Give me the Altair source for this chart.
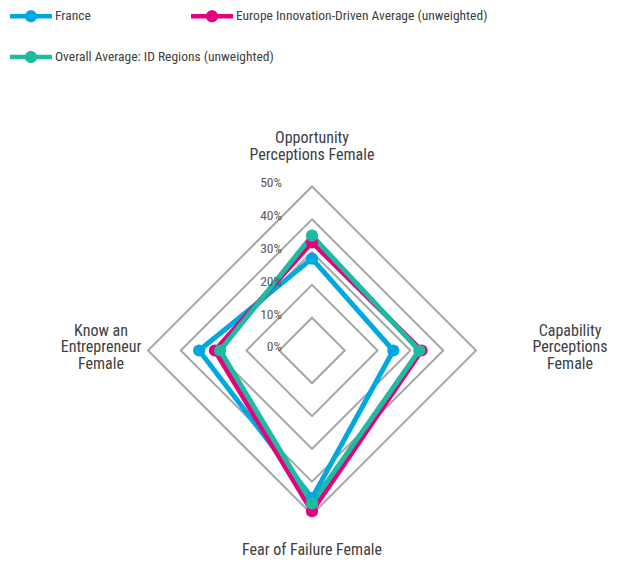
import altair as alt
import pandas as pd

# ---- data (percent) ----
axes = [
    "Opportunity Perceptions Female",
    "Capability Perceptions Female",
    "Fear of Failure Female",
    "Know an Entrepreneur Female",
]
series = [
    "France",
    "Europe Innovation-Driven Average (unweighted)",
    "Overall Average: ID Regions (unweighted)",
]
france = [28, 24.8, 45, 34.4]
europe = [33, 33.4, 49, 29.6]
overall = [35, 32.7, 46.6, 28]
levels = [0, 10, 20, 30, 40, 50]
colors = ["#00a8e1", "#e6007e", "#1ebba0"]

values = {series[0]: france, series[1]: europe, series[2]: overall}
rows = []
for s_i, s in enumerate(series):
    for a_i, a in enumerate(axes):
        rows.append({"series": s, "sorder": s_i, "axis": a, "idx": a_i, "value": values[s][a_i]})
df = pd.DataFrame(rows)

grid_rows = []
for lv in levels[1:]:
    for a_i, a in enumerate(axes):
        grid_rows.append({"level": lv, "idx": a_i, "value": lv})
grid_df = pd.DataFrame(grid_rows)

tick_df = pd.DataFrame({"level": levels, "label": [f"{v}%" for v in levels]})

FONT = "Roboto Condensed, Roboto, sans-serif"

H = 555
xs = alt.Scale(domain=[-92.68, 90.24], nice=False, zero=False)
ys = alt.Scale(domain=[-(H - 342.5) / 3.28, 104.42], nice=False, zero=False)

def polar(ch):
    return ch.transform_calculate(
        px="datum.value * sin(datum.idx * PI / 2)",
        py="datum.value * cos(datum.idx * PI / 2)",
    )

color_scale = alt.Scale(domain=series, range=colors)

SYMBOL = "M-1,-0.11H1V0.11H-1Z M-0.29,0A0.29,0.29 0 1,1 0.29,0A0.29,0.29 0 1,1 -0.29,0Z"

def make_legend(vals, y, pad):
    return alt.Legend(
        title=None,
        orient="none",
        direction="horizontal",
        legendX=2,
        legendY=y,
        values=vals,
        columnPadding=pad,
        symbolType=SYMBOL,
        symbolSize=1764,
        symbolStrokeWidth=0,
        symbolOpacity=1,
        labelFont=FONT,
        labelFontSize=13.5,
        labelColor="#404040",
        labelOffset=3,
        labelLimit=400,
    )

grid = polar(alt.Chart(grid_df)).mark_line(
    interpolate="linear-closed", color="#a6a6a6", strokeWidth=2
).encode(
    x=alt.X("px:Q", scale=xs, axis=None),
    y=alt.Y("py:Q", scale=ys, axis=None),
    detail="level:N",
    order="idx:Q",
)

lines = polar(alt.Chart(df)).mark_line(
    interpolate="linear-closed", strokeWidth=5
).encode(
    x=alt.X("px:Q", scale=xs, axis=None),
    y=alt.Y("py:Q", scale=ys, axis=None),
    color=alt.Color("series:N", scale=color_scale, legend=None, sort=series),
    detail="series:N",
    order="idx:Q",
)

points_a = polar(alt.Chart(df)).transform_filter(
    alt.FieldOneOfPredicate(field="series", oneOf=series[:2])
).mark_point(filled=True, size=150, opacity=1).encode(
    x=alt.X("px:Q", scale=xs, axis=None),
    y=alt.Y("py:Q", scale=ys, axis=None),
    color=alt.Color("series:N", scale=color_scale, sort=series,
                    legend=make_legend(series[:2], -13, 100)),
    order="sorder:Q",
)

points_b = polar(alt.Chart(df)).transform_filter(
    alt.FieldOneOfPredicate(field="series", oneOf=series[2:])
).mark_point(filled=True, size=150, opacity=1).encode(
    x=alt.X("px:Q", scale=xs, axis=None),
    y=alt.Y("py:Q", scale=ys, axis=None),
    color=alt.Color("series:N", scale=color_scale, sort=series,
                    legend=make_legend(series[2:], 28, 10)),
)

ticks = alt.Chart(tick_df).mark_text(
    align="right", baseline="middle", dx=-30, dy=-3,
    font=FONT, fontSize=13.5, color="#595959"
).encode(
    x=alt.X("zero:Q", scale=xs, axis=None),
    y=alt.Y("level:Q", scale=ys, axis=None),
    text="label:N",
).transform_calculate(zero="0")

title_lines = [
    ["Opportunity", "Perceptions Female"],
    ["Capability", "Perceptions", "Female"],
    ["Fear of Failure Female"],
    ["Know an", "Entrepreneur", "Female"],
]
offsets = [(0, -48), (94, -19.5), (0, 36), (-47, -19.5)]

title_layers = []
for a_i, a in enumerate(axes):
    tdf = pd.DataFrame({"axis": [a], "idx": [a_i], "value": [levels[-1]], "txt": ["\n".join(title_lines[a_i])]})
    dx, dy = offsets[a_i]
    t = polar(alt.Chart(tdf)).mark_text(
        align="center", baseline="middle", dx=dx, dy=dy, lineBreak="\n",
        lineHeight=16.3, font=FONT, fontSize=16, color="#404040"
    ).encode(
        x=alt.X("px:Q", scale=xs, axis=None),
        y=alt.Y("py:Q", scale=ys, axis=None),
        text="txt:N",
    )
    title_layers.append(t)

chart = alt.layer(grid, lines, points_a, points_b, ticks, *title_layers).resolve_scale(
    color="independent"
).properties(
    width=600, height=H, padding=0, autosize=alt.AutoSizeParams(type="none")
).configure_view(stroke=None)

chart.save("out.html", embed_options={"renderer": "svg", "actions": False})
